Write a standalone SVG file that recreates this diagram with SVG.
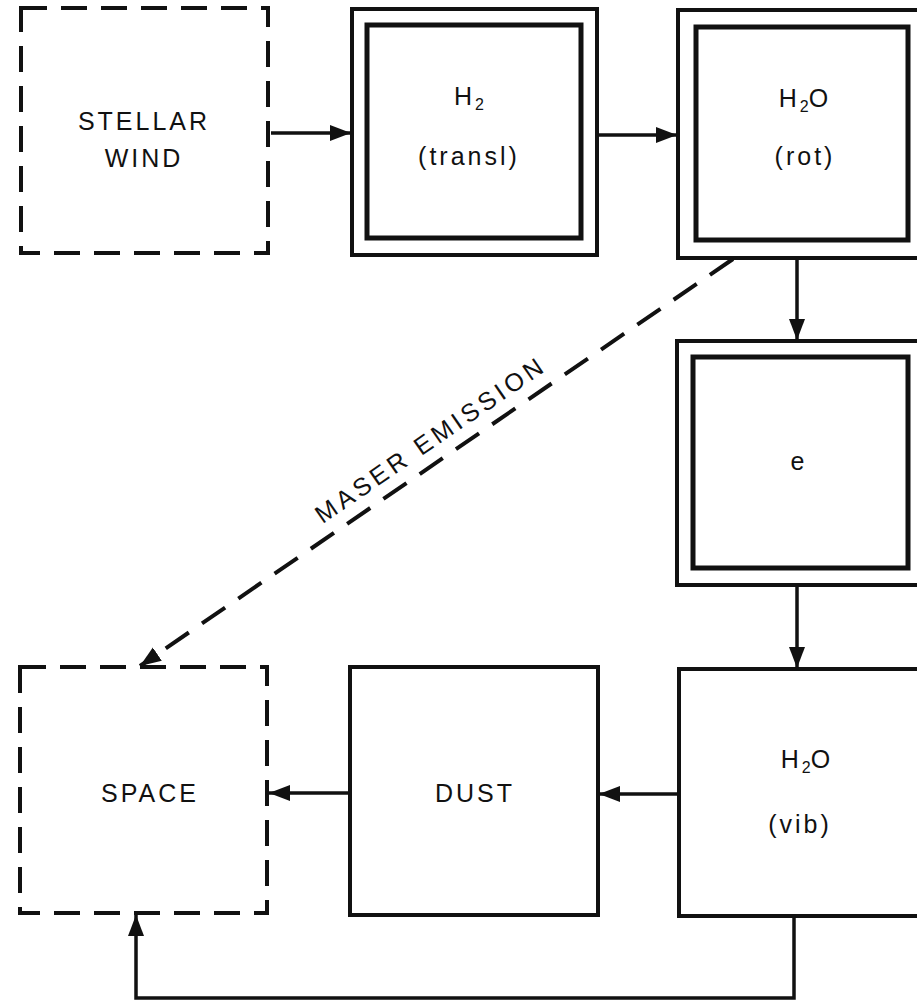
<svg xmlns="http://www.w3.org/2000/svg" width="917" height="1003" viewBox="0 0 917 1003">
<style>
.t{font-family:"Liberation Sans",Arial,sans-serif;font-size:25px;letter-spacing:3px;fill:#111;text-anchor:middle}
.sub{font-size:16px;letter-spacing:0}
.outer{fill:none;stroke:#111;stroke-width:4}
.inner{fill:none;stroke:#111;stroke-width:5}
.dash{fill:none;stroke:#111;stroke-width:4;stroke-dasharray:26 14}
.solid{fill:none;stroke:#111;stroke-width:4}
.conn{fill:none;stroke:#111;stroke-width:3.5}
.maser{fill:none;stroke:#111;stroke-width:4;stroke-dasharray:28 16}
</style>
<defs>
<marker id="arr" markerUnits="userSpaceOnUse" markerWidth="24" markerHeight="20" refX="21" refY="10" orient="auto">
<path d="M0,2 L21,10 L0,18 Z" fill="#111"/>
</marker>
</defs>
<rect width="917" height="1003" fill="#fff"/>

<g id="stellar-wind">
<rect class="dash" x="21" y="8" width="247" height="245"/>
<text class="t" x="144" y="130">STELLAR</text>
<text class="t" x="144" y="167">WIND</text>
</g>

<g id="h2-transl">
<rect class="outer" x="352" y="9" width="245" height="246"/>
<rect class="inner" x="367" y="25" width="214" height="213"/>
<text class="t" x="469" y="105">H<tspan class="sub" dy="5">2</tspan></text>
<text class="t" x="469" y="165">(transl)</text>
</g>

<g id="h2o-rot">
<rect class="outer" x="678" y="10" width="260" height="248"/>
<rect class="inner" x="696" y="27" width="212" height="213"/>
<text class="t" x="805" y="107">H<tspan class="sub" dy="5">2</tspan><tspan dy="-5">O</tspan></text>
<text class="t" x="805" y="165">(rot)</text>
</g>

<g id="e">
<rect class="outer" x="677" y="341" width="260" height="244"/>
<rect class="inner" x="693" y="357" width="215" height="211"/>
<text class="t" x="799" y="470">e</text>
</g>

<g id="h2o-vib">
<rect class="solid" x="679" y="669" width="260" height="247"/>
<text class="t" x="807" y="768">H<tspan class="sub" dy="5">2</tspan><tspan dy="-5">O</tspan></text>
<text class="t" x="800" y="833">(vib)</text>
</g>

<g id="dust">
<rect class="solid" x="350" y="667" width="248" height="248"/>
<text class="t" x="475" y="802">DUST</text>
</g>

<g id="space">
<rect class="dash" x="20" y="667" width="247" height="246"/>
<text class="t" x="150" y="802">SPACE</text>
</g>

<g id="connectors">
<line class="conn" x1="271" y1="133" x2="351" y2="133" marker-end="url(#arr)"/>
<line class="conn" x1="598" y1="135" x2="677" y2="135" marker-end="url(#arr)"/>
<line class="conn" x1="797" y1="259" x2="797" y2="340" marker-end="url(#arr)"/>
<line class="conn" x1="797" y1="586" x2="797" y2="668" marker-end="url(#arr)"/>
<line class="conn" x1="678" y1="794" x2="599" y2="794" marker-end="url(#arr)"/>
<line class="conn" x1="349" y1="793" x2="269" y2="793" marker-end="url(#arr)"/>
<polyline class="conn" points="794,917 794,998 136,998 136,915" marker-end="url(#arr)"/>
<line class="maser" x1="733" y1="259" x2="140" y2="666" marker-end="url(#arr)"/>
<text class="t" transform="translate(431,440) rotate(-34.5)" x="0" y="8" style="letter-spacing:4px">MASER EMISSION</text>
</g>
</svg>
